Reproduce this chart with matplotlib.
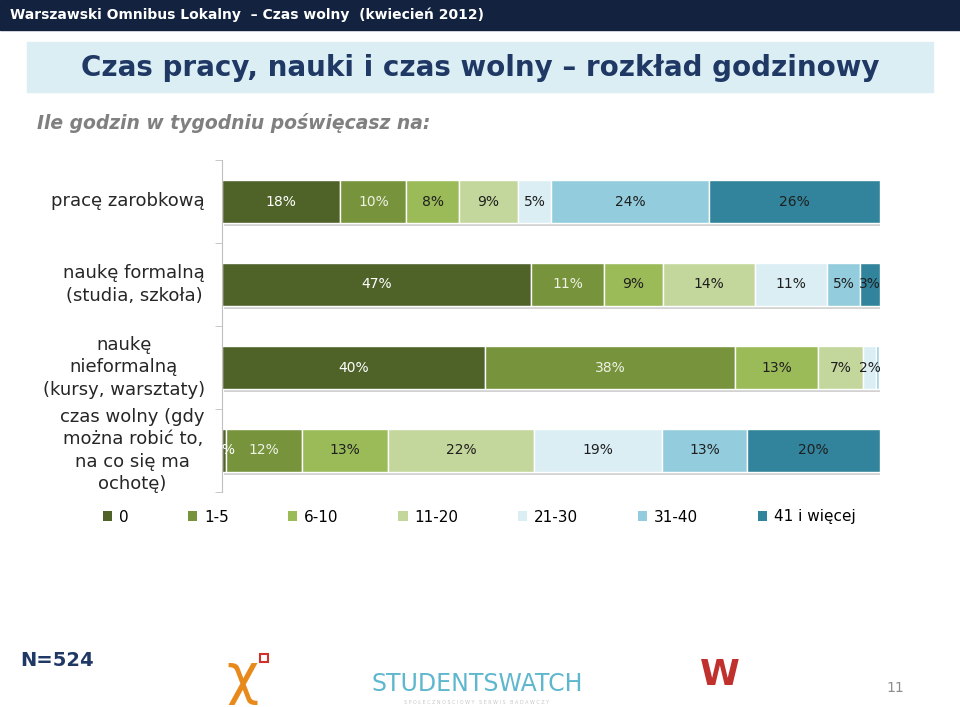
import matplotlib.pyplot as plt
import matplotlib.patheffects as pe
from matplotlib.patches import Rectangle, Patch
import numpy as np

# categories (rows, top to bottom)
categories = ['pracę zarobkową',
              'naukę formalną\n(studia, szkoła)',
              'naukę\nnieformalną\n(kursy, warsztaty)',
              'czas wolny (gdy\nmożna robić to,\nna co się ma\nochotę)']

# hour ranges (legend)
ranges = ['0', '1-5', '6-10', '11-20', '21-30', '31-40', '41 i więcej']

# percent values per hour range, one value per row
v_0 = [18, 47, 40, 0.6]
v_1_5 = [10, 11, 38, 11.6]
v_6_10 = [8, 9, 12.6, 13]
v_11_20 = [9, 14, 6.8, 22.2]
v_21_30 = [5, 11, 2, 19.4]
v_31_40 = [24, 5, 0.45, 13]
v_41 = [26, 3, 0.3, 20.2]

series = [v_0, v_1_5, v_6_10, v_11_20, v_21_30, v_31_40, v_41]
colors = ['#4f6228', '#77933c', '#9bbb59', '#c3d69b', '#dbeef4', '#93cddd', '#31849b']
text_colors = ['white', '#eef2e4', '#1f1f1f', '#1f1f1f', '#1f1f1f', '#1f1f1f', '#1f1f1f']

W, H = 960, 707
fig = plt.figure(figsize=(9.6, 7.07), dpi=100)
fig.patch.set_facecolor('white')

def fx(px):
    return px / W

def fy(py):
    return 1 - py / H

# header bar
fig.patches.append(Rectangle((0, fy(30)), 1, 30 / H, transform=fig.transFigure,
                             color='#13233f', zorder=0))
fig.text(fx(10), fy(15), 'Warszawski Omnibus Lokalny  – Czas wolny  (kwiecień 2012)',
         color='white', fontsize=10, fontweight='bold', va='center', ha='left')

# title box
fig.patches.append(Rectangle((fx(27), fy(92)), fx(933) - fx(27), 50 / H,
                             transform=fig.transFigure, color='#dbeef4', zorder=0))
fig.text(0.5, fy(68), 'Czas pracy, nauki i czas wolny – rozkład godzinowy',
         color='#1f3864', fontsize=20, fontweight='bold', ha='center', va='center')

fig.text(fx(37), fy(123), 'Ile godzin w tygodniu poświęcasz na:', color='#808080',
         fontsize=13.5, fontstyle='italic', fontweight='bold', ha='left', va='center')

# chart
ax = fig.add_axes([fx(222), fy(492), fx(880) - fx(222), (492 - 160) / H])
y = np.arange(len(categories))
left = np.zeros(len(categories))
shadow = [pe.SimplePatchShadow(offset=(1.5, -2.5), alpha=0.35, shadow_rgbFace='#808080'), pe.Normal()]
for i, vals in enumerate(series):
    vals = np.array(vals, dtype=float)
    bars = ax.barh(y, vals, left=left, height=0.51, color=colors[i],
                   edgecolor='white', linewidth=1)
    for b in bars:
        b.set_path_effects(shadow)
    for j, v in enumerate(vals):
        if v >= 0.5:
            ax.text(left[j] + v / 2, y[j], f'{v:.0f}%', ha='center', va='center',
                    fontsize=10, color=text_colors[i], clip_on=True)
    left += vals

ax.set_xlim(0, 100)
ax.set_ylim(3.5, -0.5)
for s in ['top', 'right', 'bottom']:
    ax.spines[s].set_visible(False)
ax.spines['left'].set_color('#bfbfbf')
ax.set_xticks([])
ax.set_yticks([])
ax.set_yticks(np.arange(-0.5, 4, 1), minor=True)
ax.tick_params(axis='y', which='minor', length=5, color='#bfbfbf', labelleft=False)
ax.set_facecolor('none')

for j, c in enumerate(categories):
    ax.text(-2.6, y[j], c, ha='right', va='center', multialignment='center',
            fontsize=13, linespacing=1.3, color='#262626')

# legend
handles = [Patch(facecolor=colors[i], edgecolor='none') for i in range(len(ranges))]
fig.legend(handles, ranges, loc='center', bbox_to_anchor=(fx(479), fy(517)), ncol=7,
           frameon=False, fontsize=11, handlelength=0.6, handleheight=0.6,
           columnspacing=3.9, handletextpad=0.45)

# footer
fig.text(fx(20), fy(660), 'N=524', color='#1f3864', fontsize=14, fontweight='bold',
         ha='left', va='center')
fig.text(fx(242), fy(678), 'χ', color='#e8891c', fontsize=40, ha='center', va='center')
fig.patches.append(Rectangle((fx(260), fy(662)), 8 / W, 8 / H, transform=fig.transFigure,
                             fill=False, edgecolor='#d0312d', linewidth=1.5))
fig.text(fx(477), fy(684), 'STUDENTSWATCH', color='#5fb7cf', fontsize=17, ha='center',
         va='center')
fig.text(fx(477), fy(702), 'S P O Ł E C Z N O Ś C I O W Y   S E R W I S   B A D A W C Z Y',
         color='#c8c8c8', fontsize=3.5, ha='center', va='center')
fig.text(fx(720), fy(675), 'W', color='#c0302c', fontsize=26, fontweight='bold',
         ha='center', va='center')
fig.text(fx(895), fy(688), '11', color='#8c8c8c', fontsize=10, ha='center', va='center')

fig.savefig('out.png', dpi=100)
